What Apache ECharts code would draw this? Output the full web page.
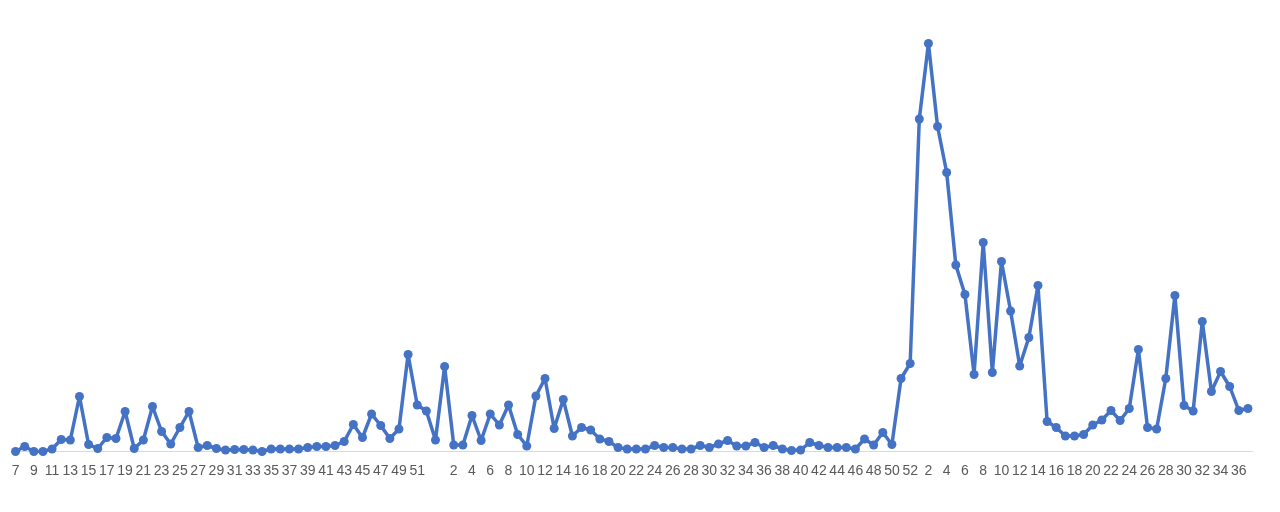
<!DOCTYPE html>
<html>
<head>
<meta charset="utf-8">
<script src="https://cdn.jsdelivr.net/npm/echarts@6/dist/echarts.min.js"></script>
<style>
html,body{margin:0;padding:0;background:#fff;}
#chart{width:1280px;height:512px;}
</style>
</head>
<body>
<div id="chart"></div>
<script>
// Tick labels (weeks) per year
var weeksYear1 = ['7','8','9','10','11','12','13','14','15','16','17','18','19','20','21','22','23','24','25','26','27','28','29','30','31','32','33','34','35','36','37','38','39','40','41','42','43','44','45','46','47','48','49','50','51','52'];
var weeksYear2 = ['','1','2','3','4','5','6','7','8','9','10','11','12','13','14','15','16','17','18','19','20','21','22','23','24','25','26','27','28','29','30','31','32','33','34','35','36','37','38','39','40','41','42','43','44','45','46','47','48','49','50','51','52'];
var weeksYear3 = ['1','2','3','4','5','6','7','8','9','10','11','12','13','14','15','16','17','18','19','20','21','22','23','24','25','26','27','28','29','30','31','32','33','34','35','36','37'];

// Series values per year
var valuesYear1 = [0,5,0,0,2.5,12,11.5,55,7,3,14,13,40,3,11.5,45,20,7.5,24,40,4,6,3,1.5,2,2,1.5,0,2.5,2.5,2.5,2.5,4,5,5,6,10,27,14,37.5,26,13,22.5,97,46.5,40.5];
var valuesYear2 = [11.5,85,6.5,6.5,36,11,37.5,26.5,46.5,17,5.5,55.5,73,23,52,15.5,24,21.5,12.5,10,4,2.5,2.5,2.5,6,4,4,2.5,2.5,6,4,7.5,11,5.5,5.5,9,4,6,2.5,1,1.5,9,6,4,4,4,2.5,12.5,6.5,19,7,73,88];
var valuesYear3 = [332.5,408,325,279,186.5,157,77,209,79,190,140.5,85.5,114,166,30,24,15.5,15.5,17,26.5,31.5,41,31,43,102,24,22.5,73,156,46,40.5,130,60,80,65,41,43];

var categories = weeksYear1.concat(weeksYear2, weeksYear3);
var values = valuesYear1.concat(valuesYear2, valuesYear3);

var chart = echarts.init(document.getElementById('chart'));
chart.setOption({
  animation: false,
  backgroundColor: '#ffffff',
  grid: {left: 11, right: 27.5, top: 31.5, bottom: 60.5, containLabel: false},
  xAxis: {
    type: 'category',
    data: categories,
    boundaryGap: true,
    axisLine: {show: true, lineStyle: {color: '#d9d9d9', width: 1}},
    axisTick: {show: false},
    axisLabel: {
      interval: 1,
      color: '#595959',
      fontSize: 14,
      fontFamily: 'Liberation Sans, Arial, sans-serif',
      margin: 13
    }
  },
  yAxis: {
    type: 'value',
    min: 0,
    max: 420,
    show: false,
    splitLine: {show: false}
  },
  series: [{
    type: 'line',
    data: values,
    symbol: 'circle',
    symbolSize: 9,
    showAllSymbol: true,
    itemStyle: {color: '#4472C4'},
    lineStyle: {color: '#4472C4', width: 3.5},
    z: 3
  }]
});
</script>
</body>
</html>
